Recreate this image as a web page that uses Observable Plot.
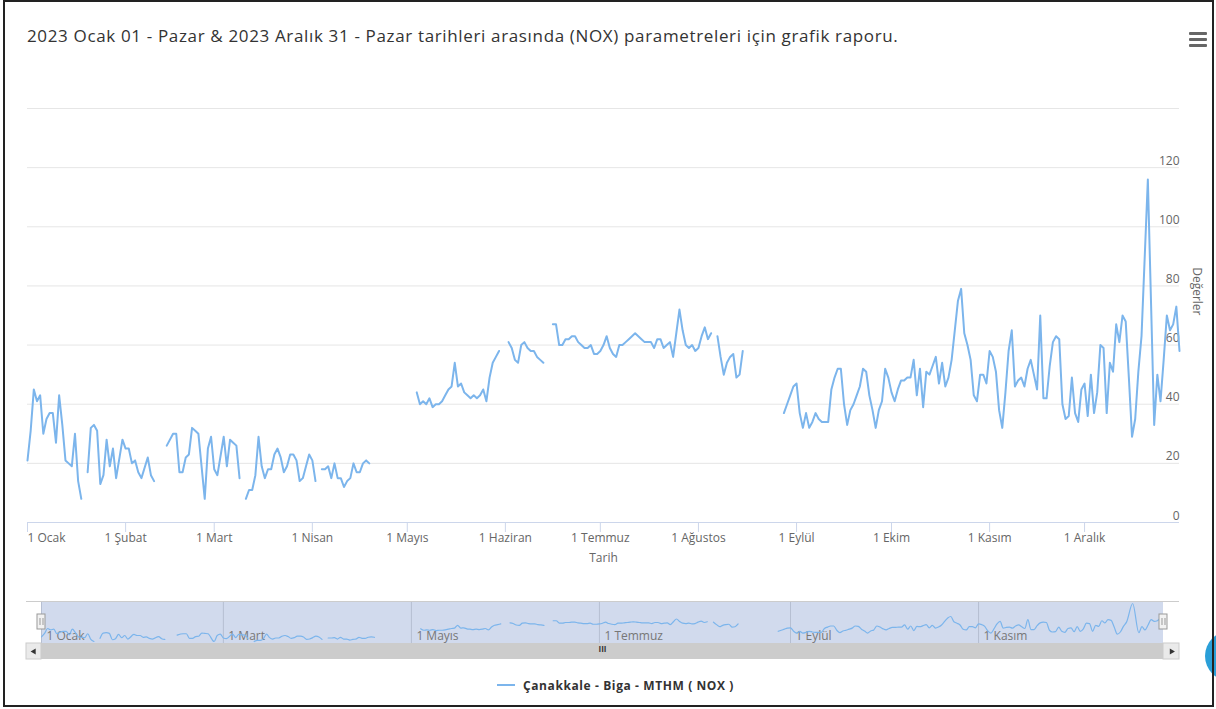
<!DOCTYPE html>
<html lang="tr">
<head>
<meta charset="utf-8">
<script src="https://cdn.jsdelivr.net/npm/d3@7"></script>
<script src="https://cdn.jsdelivr.net/npm/@observablehq/plot@0.6"></script>
<style>
  html, body { margin:0; padding:0; background:#fff; width:1216px; height:709px; overflow:hidden; position:relative; font-family:'Open Sans', sans-serif; }
  #frame { position:absolute; left:3px; top:0; width:1211px; height:707px; box-sizing:border-box; border:2px solid #222; pointer-events:none; }
  #title { position:absolute; left:27px; top:24px; font-size:17px; letter-spacing:0.65px; color:#333; white-space:nowrap; }
  #menu { position:absolute; left:1189px; top:32px; width:18px; }
  #menu div { height:3px; background:#666; margin-bottom:3px; border-radius:1px; }
  #main { position:absolute; left:0; top:0; }
  #nav { position:absolute; left:0; top:590px; }
  #legend { position:absolute; left:497px; top:676px; height:18px; display:flex; align-items:center; font-size:12px; font-weight:bold; letter-spacing:0.6px; color:#333; white-space:nowrap; }
  #legend span { margin-left:8px; }
  #bubble { position:absolute; left:1205px; top:631px; width:50px; height:50px; border-radius:50%; background:#2a9fd8; }
</style>
</head>
<body>
<div id="title"></div>
<div id="menu"><div></div><div></div><div></div></div>
<div id="main"></div>
<div id="nav"></div>
<div id="legend"><svg width="18" height="4"><line x1="0" y1="2" x2="18" y2="2" stroke="#7cb5ec" stroke-width="2"/></svg><span></span></div>
<div id="bubble"></div>
<div id="frame"></div>
<script>
const titleText = "2023 Ocak 01 - Pazar & 2023 Aralık 31 - Pazar tarihleri arasında (NOX) parametreleri için grafik raporu.";
const seriesName = "Çanakkale - Biga - MTHM ( NOX )";
const xTitle = "Tarih";
const yTitle = "Değerler";
const monthLabels = ["1 Ocak","1 Şubat","1 Mart","1 Nisan","1 Mayıs","1 Haziran","1 Temmuz","1 Ağustos","1 Eylül","1 Ekim","1 Kasım","1 Aralık"];
const navMonths = [0, 2, 4, 6, 8, 10];
const yTicks = [0, 20, 40, 60, 80, 100, 120];
const yGrid = [0, 20, 40, 60, 80, 100, 120, 140];

// day of year (0 = 1 Ocak 2023) and NOX value; null = missing data (gap)
const dayOfYear = [
  0,1,2,3,4,5,6,7,8,9,10,11,12,13,14,15,16,17,18,
  19,20,21,22,23,24,25,26,27,28,30,31,32,33,34,35,36,38,39,40,42,
  44,46,47,48,49,50,51,52,53,54,56,57,58,59,60,62,63,64,65,66,67,68,
  69,70,71,72,73,74,75,76,77,78,79,80,81,82,83,84,85,86,87,88,89,90,91,92,
  93,94,95,96,97,98,99,100,101,102,103,104,105,106,107,108,115,
  123,124,125,126,127,128,129,130,131,132,133,134,135,136,137,138,139,140,141,142,143,144,145,146,147,148,149,150,
  152,153,154,155,156,157,158,159,160,161,162,163,164,
  166,167,168,169,170,171,172,173,174,175,176,177,178,179,180,181,182,183,184,185,
  186,187,188,189,190,191,192,193,194,195,196,197,198,199,200,201,202,203,204,205,
  206,207,208,209,210,211,212,213,214,215,216,217,
  218,219,220,221,222,223,224,225,226,230,
  239,240,241,242,243,244,245,246,247,248,249,250,251,252,253,254,255,256,257,258,
  259,260,261,262,263,264,265,266,267,268,269,270,271,272,273,274,275,276,277,278,
  279,280,281,282,283,284,285,286,287,288,289,290,291,292,293,294,295,296,297,298,
  299,300,301,302,303,304,305,306,307,308,309,310,311,312,313,314,315,316,317,318,
  319,320,321,322,323,324,325,326,327,328,329,330,331,332,333,334,335,336,337,338,
  339,340,341,342,343,344,345,346,347,348,349,350,351,352,354,356,357,358,359,360,361,362,363,364
];
const nox = [
  21,31,45,41,43,30,35,37,37,27,43,33,21,20,19,30,14,8,null,
  17,32,33,31,13,16,28,19,25,15,28,25,25,20,21,17,15,22,16,14,null,
  26,30,30,17,17,22,23,32,31,30,8,25,29,18,16,29,19,28,27,26,15,null,
  8,11,11,16,29,19,15,18,18,23,25,22,17,19,23,23,21,14,15,19,23,21,14,null,
  18,18,19,15,20,15,15,12,14,15,20,17,17,20,21,20,null,
  44,40,41,40,42,39,40,40,41,43,45,46,54,46,47,44,43,42,43,42,43,45,41,49,54,56,58,null,
  61,59,55,54,60,61,59,58,58,56,55,54,null,
  67,67,60,60,62,62,63,63,61,60,59,59,60,57,57,58,60,63,59,57,
  56,60,60,61,62,63,64,63,62,61,61,61,59,62,62,59,60,61,56,64,
  72,65,60,59,60,58,59,63,66,62,64,null,
  63,56,50,54,56,57,49,50,58,null,
  37,40,43,46,47,37,32,37,32,34,37,35,34,34,34,45,49,52,52,40,
  33,38,40,43,46,52,51,43,38,32,38,41,52,49,44,41,45,48,48,49,
  49,55,43,52,39,51,50,53,56,47,54,46,49,55,65,75,79,64,60,55,
  43,41,50,50,47,58,56,51,38,32,44,58,65,46,48,49,46,52,55,50,
  45,70,42,42,53,61,63,62,40,35,36,49,37,34,45,47,36,50,37,44,
  60,59,37,54,51,67,61,70,68,49,29,35,51,63,116,33,50,41,55,70,65,67,73,58
];

document.getElementById("title").textContent = titleText;
document.querySelector("#legend span").textContent = seriesName;

const base = Date.UTC(2023, 0, 1);
const toDate = d => new Date(base + d * 86400000);
const rows = dayOfYear.map((d, i) => ({date: toDate(d), value: nox[i]}));
const monthDates = monthLabels.map((_, m) => new Date(Date.UTC(2023, m, 1)));
const xDomain = [toDate(0), toDate(364)];
const labelOf = d => monthLabels[d.getUTCMonth()];
const font = {fontFamily: "'Open Sans', sans-serif", fontSize: "12px", background: "transparent", overflow: "visible"};

const main = Plot.plot({
  width: 1216, height: 580,
  marginTop: 108, marginBottom: 58, marginLeft: 27, marginRight: 37,
  style: font,
  x: {type: "utc", domain: xDomain, axis: null},
  y: {domain: [0, 140], axis: null},
  marks: [
    Plot.gridY(yGrid, {stroke: "#e6e6e6", strokeOpacity: 1}),
    Plot.ruleY([0], {stroke: "#ccd6eb"}),
    Plot.axisX(monthDates.slice(1), {tickSize: 10, tickPadding: 1, stroke: "#ccd6eb", strokeOpacity: 1, fill: "#666", tickFormat: labelOf, label: null}),
    Plot.axisX(monthDates.slice(0, 1), {tickSize: 10, tickPadding: 1, stroke: "#ccd6eb", strokeOpacity: 1, fill: "#666", tickFormat: labelOf, label: null, textAnchor: "start"}),
    Plot.text(yTicks, {y: d => d, text: d => String(d), frameAnchor: "right", textAnchor: "end", lineAnchor: "bottom", dy: -3, fill: "#666"}),
    Plot.text([xTitle], {text: d => d, frameAnchor: "bottom", dy: 39, fill: "#666"}),
    Plot.text([yTitle], {text: d => d, frameAnchor: "right", rotate: 90, dx: 17, fill: "#666"}),
    Plot.line(rows, {x: "date", y: "value", stroke: "#7cb5ec", strokeWidth: 2, strokeLinejoin: "round", strokeLinecap: "round"})
  ]
});
document.getElementById("main").appendChild(main);

const navDates = navMonths.map(m => monthDates[m]);
const span = [{x1: xDomain[0], x2: xDomain[1]}];
const ends = [xDomain[0], xDomain[1]];
const nav = Plot.plot({
  width: 1216, height: 75,
  marginTop: 11, marginBottom: 24, marginLeft: 41, marginRight: 53,
  style: font,
  x: {type: "utc", domain: xDomain, axis: null},
  y: {domain: [8, 116], insetTop: 2, axis: null},
  marks: [
    Plot.ruleX(navDates, {stroke: "#d8d8d8", insetBottom: -2}),
    Plot.rect(span, {x1: "x1", x2: "x2", insetBottom: -2, fill: "rgb(102,133,194)", fillOpacity: 0.3}),
    Plot.rect(span, {x1: "x1", x2: "x2", insetBottom: 39, insetLeft: -15, insetRight: -16, fill: "#cccccc"}),
    Plot.text(navDates, {x: d => d, text: d => labelOf(d), frameAnchor: "bottom", textAnchor: "start", lineAnchor: "bottom", dx: 5, dy: -2, fill: "#777"}),
    Plot.line(rows, {x: "date", y: "value", stroke: "#7cb5ec", strokeWidth: 1.2, curve: "monotone-x"}),
    // scrollbar
    Plot.rect(span, {x1: "x1", x2: "x2", insetTop: 42, insetBottom: -18, insetLeft: -15, insetRight: -16, fill: "#f2f2f2"}),
    Plot.rect(span, {x1: "x1", x2: "x2", insetTop: 42, insetBottom: -18, fill: "#cccccc"}),
    Plot.rect(ends.slice(0, 1), {x1: d => d, x2: d => d, insetTop: 42, insetBottom: -18, insetLeft: -15, fill: "#eaeaea", stroke: "#cccccc"}),
    Plot.rect(ends.slice(1), {x1: d => d, x2: d => d, insetTop: 42, insetBottom: -18, insetRight: -16, fill: "#eaeaea", stroke: "#cccccc"}),
    Plot.dot(ends.slice(0, 1), {x: d => d, dx: -7.5, dy: 30, symbol: "triangle", rotate: -90, r: 2.2, fill: "#333", stroke: "none"}),
    Plot.dot(ends.slice(1), {x: d => d, dx: 8, dy: 30, symbol: "triangle", rotate: 90, r: 2.2, fill: "#333", stroke: "none"}),
    Plot.text(["III"], {text: d => d, frameAnchor: "bottom", dy: 10, fontSize: 8, fontWeight: "bold", fill: "#333"}),
    // handles
    Plot.rect(ends, {x1: d => d, x2: d => d, insetLeft: -4, insetRight: -4, insetTop: 13, insetBottom: 12, fill: "#f2f2f2", stroke: "#999999"}),
    Plot.ruleX(ends, {x: d => d, dx: -1.5, insetTop: 17, insetBottom: 16, stroke: "#999"}),
    Plot.ruleX(ends, {x: d => d, dx: 1.5, insetTop: 17, insetBottom: 16, stroke: "#999"})
  ]
});
document.getElementById("nav").appendChild(nav);
</script>
</body>
</html>
